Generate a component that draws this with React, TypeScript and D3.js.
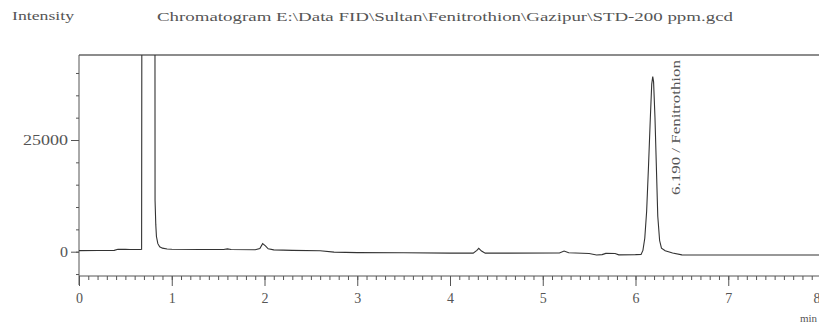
import { useRef, useEffect } from "react";
import * as d3 from "d3";

// retention time (min) and detector intensity
const times = [
    0, 0.2, 0.38, 0.42, 0.5, 0.55, 0.66, 0.675, 0.685, 0.815, 0.82, 0.828, 0.835, 0.85, 0.87, 0.9, 0.95, 1.0,
    1.3, 1.56, 1.6, 1.64, 1.9, 1.95, 1.98, 2.01, 2.04, 2.1, 2.3, 2.6, 2.75, 3.0, 3.5, 4.0, 4.25, 4.29, 4.31,
    4.34, 4.38, 5.18, 5.23, 5.28, 5.5, 5.58, 5.64, 5.68, 5.78, 5.82, 6.0, 6.06, 6.08, 6.1, 6.12, 6.14, 6.16,
    6.175, 6.186, 6.195, 6.21, 6.225, 6.24, 6.26, 6.28, 6.32, 6.4, 6.5, 7.0, 8.0,
];
const intensity = [
    250, 280, 300, 550, 520, 480, 480, 520, 200000, 200000, 11500, 6000, 3400, 1800, 1100, 800, 620, 550,
    500, 480, 620, 480, 420, 700, 1800, 1300, 650, 400, 300, 200, -100, -200, -250, -320, -330, 300, 750,
    150, -330, -300, 150, -250, -400, -750, -650, -380, -400, -700, -650, -600, 300, 3000, 9000, 19000, 30000,
    37500, 39200, 38000, 30000, 19000, 8000, 2500, 800, 200, -300, -700, -740, -750,
];

const xTicks = [0, 1, 2, 3, 4, 5, 6, 7, 8];
const yTicks = [0, 25000];
const title = "Chromatogram E:\\Data FID\\Sultan\\Fenitrothion\\Gazipur\\STD-200 ppm.gcd";
const peakLabel = "6.190 / Fenitrothion";

export default function App() {
    const svgRef = useRef<SVGSVGElement | null>(null);

    useEffect(() => {
        if (!svgRef.current) return;
        const svg = d3.select(svgRef.current);
        svg.selectAll("*").remove();

        const width = 819;
        const top = 55;
        const axisY = 276;
        const left = 79;
        const font = "'Liberation Serif', 'DejaVu Serif', serif";
        const ink = "#333";
        const textColor = "#555";

        const x = d3.scaleLinear().domain([0, 8]).range([left, 821]);
        const y = d3.scaleLinear().domain([0, 25000]).range([251.7, 140]);

        // clip the off-scale solvent peak at the frame
        svg.append("defs")
            .append("clipPath")
            .attr("id", "plot-clip")
            .append("rect")
            .attr("x", left)
            .attr("y", top)
            .attr("width", width - left)
            .attr("height", axisY - top);

        // frame top
        svg.append("line")
            .attr("x1", left).attr("x2", width)
            .attr("y1", top).attr("y2", top)
            .attr("stroke", "#666").attr("stroke-width", 1.5);

        // y axis: minor ticks every 5000, labelled majors
        const yMinor = d3.range(-5000, 40001, 5000);
        svg.append("g")
            .attr("transform", `translate(${left},0)`)
            .call(d3.axisLeft(y).tickValues(yMinor).tickSize(3).tickFormat(() => ""))
            .call(g => g.select(".domain").remove());
        const yAxis = svg.append("g")
            .attr("transform", `translate(${left},0)`)
            .call(d3.axisLeft(y).tickValues(yTicks).tickSize(8).tickPadding(3).tickFormat(d => String(d)))
            .call(g => g.select(".domain").remove());
        yAxis.selectAll("text")
            .attr("font-family", font).attr("font-size", 14).attr("fill", textColor)
            .attr("textLength", d => (d === 0 ? 8 : 45))
            .attr("lengthAdjust", "spacingAndGlyphs");
        svg.append("line")
            .attr("x1", left).attr("x2", left)
            .attr("y1", top).attr("y2", axisY + 9)
            .attr("stroke", "#555");

        // x axis: minor ticks every 0.1 min
        const xMinor = d3.range(0, 81).map(i => i / 10);
        svg.append("g")
            .attr("transform", `translate(0,${axisY})`)
            .call(d3.axisBottom(x).tickValues(xMinor).tickSize(4).tickFormat(() => ""))
            .call(g => g.select(".domain").remove());
        const xAxis = svg.append("g")
            .attr("transform", `translate(0,${axisY})`)
            .call(d3.axisBottom(x).tickValues(xTicks).tickSize(10).tickPadding(7).tickFormat(d => String(d)))
            .call(g => g.select(".domain").remove());
        xAxis.selectAll("text")
            .attr("font-family", font).attr("font-size", 14).attr("fill", textColor);
        // last label sits on the page edge; keep it inside
        xAxis.selectAll<SVGTextElement, number>("text")
            .filter(d => d === 8)
            .attr("text-anchor", "end")
            .attr("dx", -1);
        svg.append("line")
            .attr("x1", left).attr("x2", width)
            .attr("y1", axisY).attr("y2", axisY)
            .attr("stroke", "#555");
        svg.selectAll(".tick line").attr("stroke", "#555");

        // trace
        const line = d3.line<number>()
            .x((_, i) => x(times[i]))
            .y(d => y(d));
        svg.append("path")
            .datum(intensity)
            .attr("clip-path", "url(#plot-clip)")
            .attr("d", line)
            .attr("fill", "none")
            .attr("stroke", ink)
            .attr("stroke-width", 1.1);

        // labels
        svg.append("text")
            .attr("x", 445).attr("y", 21)
            .attr("text-anchor", "middle")
            .attr("font-family", font).attr("font-size", 13)
            .attr("fill", textColor)
            .attr("textLength", 576).attr("lengthAdjust", "spacingAndGlyphs")
            .text(title);
        svg.append("text")
            .attr("x", 12).attr("y", 20)
            .attr("font-family", font).attr("font-size", 13)
            .attr("fill", textColor)
            .attr("textLength", 62).attr("lengthAdjust", "spacingAndGlyphs")
            .text("Intensity");
        svg.append("text")
            .attr("transform", `translate(${x(6.19) + 27},195) rotate(-90)`)
            .attr("font-family", font).attr("font-size", 12)
            .attr("fill", textColor)
            .attr("textLength", 135).attr("lengthAdjust", "spacingAndGlyphs")
            .text(peakLabel);
        svg.append("text")
            .attr("x", 817).attr("y", 322)
            .attr("text-anchor", "end")
            .attr("font-family", font).attr("font-size", 11)
            .attr("fill", textColor)
            .text("min");
    }, []);

    return (
        <svg
            ref={svgRef}
            width={819}
            height={324}
            style={{ position: "absolute", left: 0, top: 0, background: "#fff" }}
        />
    );
}
